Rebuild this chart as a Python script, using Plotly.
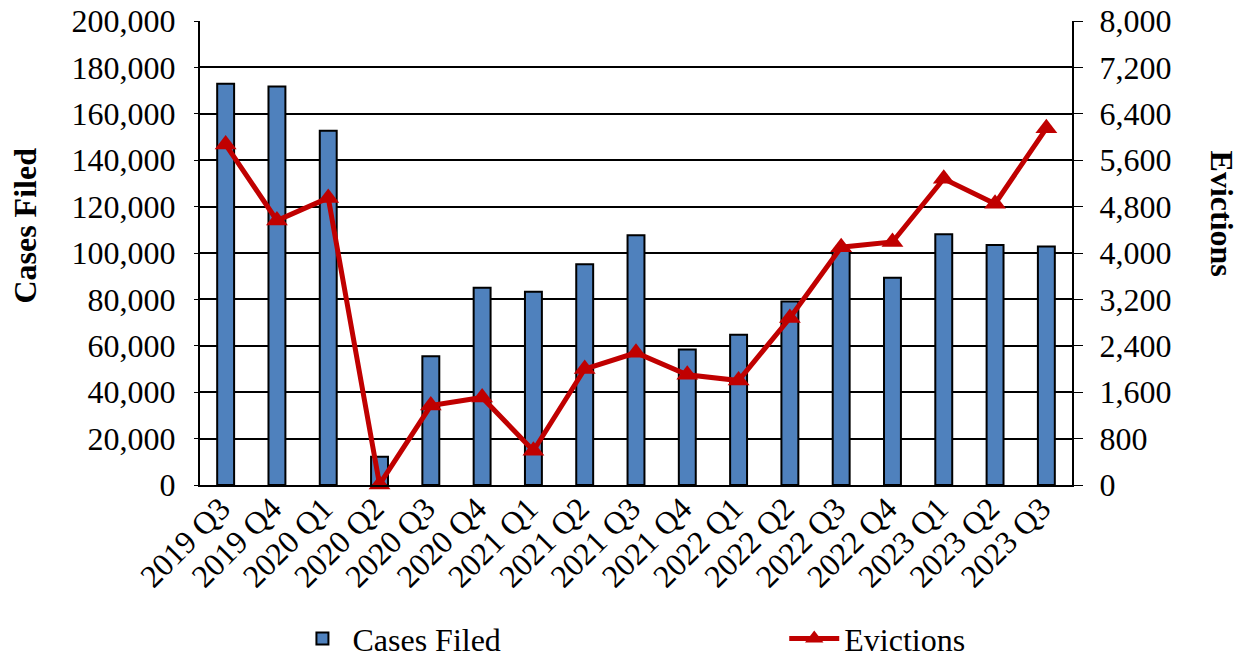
import plotly.graph_objects as go

quarters = ["2019 Q3", "2019 Q4", "2020 Q1", "2020 Q2", "2020 Q3", "2020 Q4",
            "2021 Q1", "2021 Q2", "2021 Q3", "2021 Q4", "2022 Q1", "2022 Q2",
            "2022 Q3", "2022 Q4", "2023 Q1", "2023 Q2", "2023 Q3"]
cases_filed = [173000, 171800, 152700, 12200, 55500, 85000, 83300, 95200, 107700,
               58400, 64800, 79100, 100900, 89300, 108100, 103400, 102800]
evictions = [5870, 4560, 4950, 10, 1370, 1510, 590, 2000, 2280,
             1900, 1800, 2880, 4100, 4190, 5280, 4850, 6150]

left_ticks = list(range(0, 200001, 20000))
right_ticks = list(range(0, 8001, 800))

FONT = "Liberation Serif"
FS = 32

fig = go.Figure()
fig.add_trace(go.Bar(
    x=quarters, y=cases_filed, name="Cases Filed",
    marker=dict(color="#4F81BD", line=dict(color="black", width=2)),
    width=0.33, yaxis="y", legend="legend"))
fig.add_trace(go.Scatter(
    x=quarters, y=evictions, name="Evictions", mode="lines+markers",
    line=dict(color="#C00000", width=5),
    marker=dict(symbol="triangle-up", size=19, color="#C00000"),
    yaxis="y2", cliponaxis=False, legend="legend2"))

leg_common = dict(orientation="h", yanchor="middle", y=-0.331, xanchor="left",
                  font=dict(family=FONT, size=FS), itemwidth=50,
                  bgcolor="rgba(0,0,0,0)")

fig.update_layout(
    width=1236, height=650,
    margin=dict(l=192, r=172, t=13, b=173, autoexpand=False),
    paper_bgcolor="white", plot_bgcolor="white",
    font=dict(family=FONT, size=FS, color="black"),
    showlegend=True,
    legend=dict(x=0.106, **leg_common),
    legend2=dict(x=0.67, **leg_common),
    xaxis=dict(range=[-0.5, len(quarters) - 0.5], tickangle=-45,
               showline=True, linecolor="black", linewidth=2,
               ticks="", tickfont=dict(family=FONT, size=FS), showgrid=False,
               automargin=False, ticklabelshift=-5, ticklabelstandoff=-10,
               ticklabeloverflow="allow"),
    yaxis=dict(range=[0, 200000], tickvals=left_ticks, tickformat=",",
               showgrid=True, gridcolor="black", gridwidth=2,
               showline=True, linecolor="black", linewidth=2,
               ticks="outside", ticklen=4, tickcolor="black",
               tickfont=dict(family=FONT, size=FS), zeroline=False,
               automargin=False, ticklabelstandoff=12,
               ticklabeloverflow="allow"),
    yaxis2=dict(range=[0, 8000], tickvals=right_ticks, tickformat=",",
                overlaying="y", side="right", showgrid=False,
                showline=True, linecolor="black", linewidth=2,
                ticks="outside", ticklen=9, tickcolor="black",
                tickfont=dict(family=FONT, size=FS), zeroline=False,
                automargin=False, ticklabelstandoff=10,
                ticklabeloverflow="allow"),
    annotations=[
        dict(text="<b>Cases Filed</b>", xref="paper", yref="paper",
             x=-0.2007, y=0.559, xanchor="center", yanchor="middle",
             textangle=-90, showarrow=False,
             font=dict(family=FONT, size=FS)),
        dict(text="<b>Evictions</b>", xref="paper", yref="paper",
             x=1.172, y=0.585, xanchor="center", yanchor="middle",
             textangle=90, showarrow=False,
             font=dict(family=FONT, size=FS)),
    ],
)

fig.write_html("out.html")
